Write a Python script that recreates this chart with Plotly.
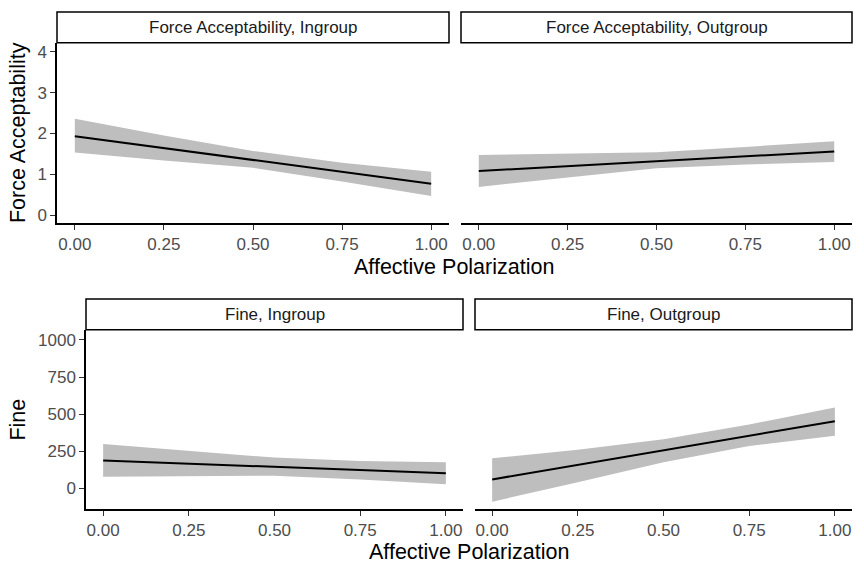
import plotly.graph_objects as go

W, H = 864, 576

# ---- data ----
x_pts = [0.0, 0.25, 0.5, 0.75, 1.0]
x_ticks = [0, 0.25, 0.5, 0.75, 1.0]
x_ticktext = ["0.00", "0.25", "0.50", "0.75", "1.00"]

force_in_fit = [1.93, 1.64, 1.35, 1.06, 0.77]
force_in_lo = [1.53, 1.34, 1.16, 0.82, 0.47]
force_in_hi = [2.36, 1.95, 1.57, 1.28, 1.06]

force_out_fit = [1.08, 1.20, 1.32, 1.44, 1.56]
force_out_lo = [0.69, 0.92, 1.15, 1.24, 1.30]
force_out_hi = [1.47, 1.51, 1.54, 1.67, 1.81]

fine_in_fit = [188, 166, 144, 123, 101]
fine_in_lo = [78, 81, 85, 59, 27]
fine_in_hi = [298, 253, 207, 184, 175]

fine_out_fit = [60, 158, 256, 354, 452]
fine_out_lo = [-90, 40, 175, 285, 354]
fine_out_hi = [202, 260, 330, 430, 544]

force_yticks = [0, 1, 2, 3, 4]
fine_yticks = [0, 250, 500, 750, 1000]

strip_titles = ["Force Acceptability, Ingroup", "Force Acceptability, Outgroup",
                "Fine, Ingroup", "Fine, Outgroup"]
x_title = "Affective Polarization"
y_titles = ["Force Acceptability", "Fine"]

# ---- layout geometry (pixels) ----
FONT = "Liberation Sans"
RIBBON = "#BEBEBE"


def px_x(p):
    return p / W


def px_y(p):
    return 1 - p / H


panels = [
    # (x0, x1, y_top, y_bottom)
    (57, 449, 43, 224),
    (461, 852, 43, 224),
    (86, 463, 331, 511),
    (475, 852, 331, 511),
]
strip_h = 31

series = [
    (force_in_fit, force_in_lo, force_in_hi),
    (force_out_fit, force_out_lo, force_out_hi),
    (fine_in_fit, fine_in_lo, fine_in_hi),
    (fine_out_fit, fine_out_lo, fine_out_hi),
]

fig = go.Figure()
for i, (fit, lo, hi) in enumerate(series):
    xa = "x" if i == 0 else f"x{i+1}"
    ya = "y" if i == 0 else f"y{i+1}"
    fig.add_trace(go.Scatter(
        x=x_pts + x_pts[::-1], y=hi + lo[::-1], fill="toself",
        fillcolor=RIBBON, line=dict(width=0), mode="lines",
        hoverinfo="skip", showlegend=False, xaxis=xa, yaxis=ya))
    fig.add_trace(go.Scatter(
        x=x_pts, y=fit, mode="lines", line=dict(color="black", width=2),
        showlegend=False, xaxis=xa, yaxis=ya))

tickfont = dict(family=FONT, size=17, color="#4D4D4D")
common_x = dict(range=[-0.05, 1.05], tickvals=x_ticks, ticktext=x_ticktext,
                showline=True, linecolor="black", linewidth=1.5,
                ticks="outside", ticklen=5, tickwidth=1.2, tickcolor="#333333",
                showgrid=False, zeroline=False, tickfont=tickfont)

layout = dict(width=W, height=H, margin=dict(l=0, r=0, t=0, b=0),
              paper_bgcolor="white", plot_bgcolor="white", showlegend=False)

for i, (x0, x1, yt, yb) in enumerate(panels):
    xk = "xaxis" if i == 0 else f"xaxis{i+1}"
    yk = "yaxis" if i == 0 else f"yaxis{i+1}"
    ya = "y" if i == 0 else f"y{i+1}"
    layout[xk] = dict(common_x, domain=[px_x(x0), px_x(x1)], anchor=ya)
    xa = "x" if i == 0 else f"x{i+1}"
    is_force = i < 2
    yd = dict(domain=[px_y(yb), px_y(yt)], anchor=xa, showgrid=False,
              zeroline=False,
              range=[-0.2, 4.22] if is_force else [-141, 1068],
              tickvals=force_yticks if is_force else fine_yticks,
              tickfont=tickfont)
    if i in (0, 2):
        yd.update(showline=True, linecolor="black", linewidth=1.5,
                  ticks="outside", ticklen=5, tickwidth=1.2, tickcolor="#333333")
    else:
        yd.update(showline=False, showticklabels=False, ticks="")
    layout[yk] = yd

fig.update_layout(**layout)

# strips
for i, (x0, x1, yt, yb) in enumerate(panels):
    fig.add_shape(type="rect", xref="paper", yref="paper",
                  x0=px_x(x0), x1=px_x(x1), y0=px_y(yt), y1=px_y(yt - strip_h),
                  line=dict(color="black", width=1.5), fillcolor="white")
    fig.add_annotation(xref="paper", yref="paper",
                       x=px_x((x0 + x1) / 2), y=px_y(yt - strip_h / 2),
                       text=strip_titles[i], showarrow=False,
                       font=dict(family=FONT, size=17, color="#1A1A1A"),
                       xanchor="center", yanchor="middle")

# axis titles
title_font = dict(family=FONT, size=21.5, color="black")
fig.add_annotation(xref="paper", yref="paper", x=px_x(454.5), y=px_y(268),
                   text=x_title, showarrow=False, font=title_font,
                   xanchor="center", yanchor="middle")
fig.add_annotation(xref="paper", yref="paper", x=px_x(469), y=px_y(554),
                   text=x_title, showarrow=False, font=title_font,
                   xanchor="center", yanchor="middle")
fig.add_annotation(xref="paper", yref="paper", x=px_x(18), y=px_y(133.5),
                   text=y_titles[0], showarrow=False, font=title_font,
                   textangle=-90, xanchor="center", yanchor="middle")
fig.add_annotation(xref="paper", yref="paper", x=px_x(18), y=px_y(421),
                   text=y_titles[1], showarrow=False, font=title_font,
                   textangle=-90, xanchor="center", yanchor="middle")

fig.write_html("out.html", config={"displayModeBar": False},
               post_script="document.body.style.margin='0';document.body.style.padding='0';")
